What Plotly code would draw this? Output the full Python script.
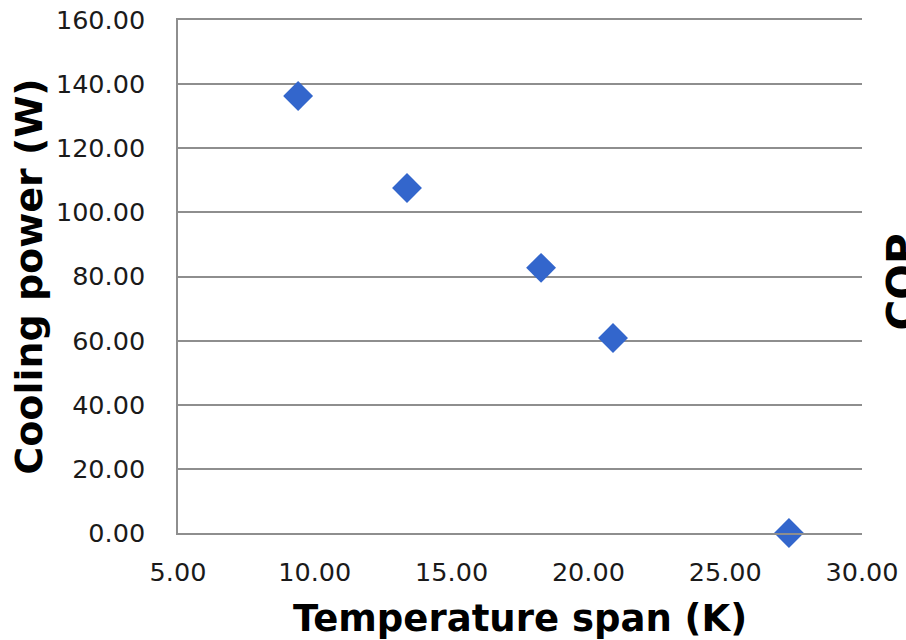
import plotly.graph_objects as go

# Measured cooling power versus temperature span
temperature_span = [9.39, 13.37, 18.27, 20.90, 27.33]   # K
cooling_power = [136.3, 107.6, 82.7, 60.8, 0.0]          # W

x_ticks = [5, 10, 15, 20, 25, 30]
y_ticks = [0, 20, 40, 60, 80, 100, 120, 140, 160]

FONT = "DejaVu Sans"
GRID = "#8e8e8e"

fig = go.Figure()
fig.add_trace(go.Scatter(
    x=temperature_span,
    y=cooling_power,
    mode="markers",
    marker=dict(symbol="diamond", size=23, color="#3366cc", line=dict(width=0)),
    showlegend=False,
    cliponaxis=False,
))

fig.update_layout(
    width=906,
    height=640,
    margin=dict(l=178, r=44, t=20, b=107),
    paper_bgcolor="white",
    plot_bgcolor="white",
    font=dict(family=FONT, color="#1a1a1a", size=22),
    xaxis=dict(
        range=[5, 30],
        tickvals=x_ticks,
        ticktext=[f"{v:.2f}" for v in x_ticks],
        showgrid=False,
        zeroline=False,
        showline=True,
        mirror=True,
        linecolor=GRID,
        linewidth=1.5,
        ticks="",
        ticklabelstandoff=16,
        automargin=False,
        tickfont=dict(size=25.5, family=FONT),
        title=dict(text="<b>Temperature span (K)</b>", font=dict(size=37, family=FONT, color="#000"), standoff=22),
    ),
    yaxis=dict(
        range=[0, 160],
        tickvals=y_ticks,
        ticktext=[f"{v:.2f}" for v in y_ticks],
        showgrid=True,
        gridcolor=GRID,
        gridwidth=1.5,
        zeroline=False,
        showline=True,
        linecolor=GRID,
        linewidth=1.5,
        ticks="",
        ticklabelstandoff=26,
        automargin=False,
        tickfont=dict(size=25.5, family=FONT),
        title=dict(text="<b>Cooling power (W)</b>", font=dict(size=38, family=FONT, color="#000"), standoff=2),
    ),
)

# Secondary axis title, partly beyond the right edge
fig.add_annotation(
    text="<b>COP</b>",
    xref="paper", yref="paper",
    x=1.0, y=0.5,
    xshift=40,
    yshift=-6,
    xanchor="center", yanchor="middle",
    textangle=-90,
    showarrow=False,
    font=dict(size=42, family=FONT, color="#000"),
)

fig.write_html("out.html")
